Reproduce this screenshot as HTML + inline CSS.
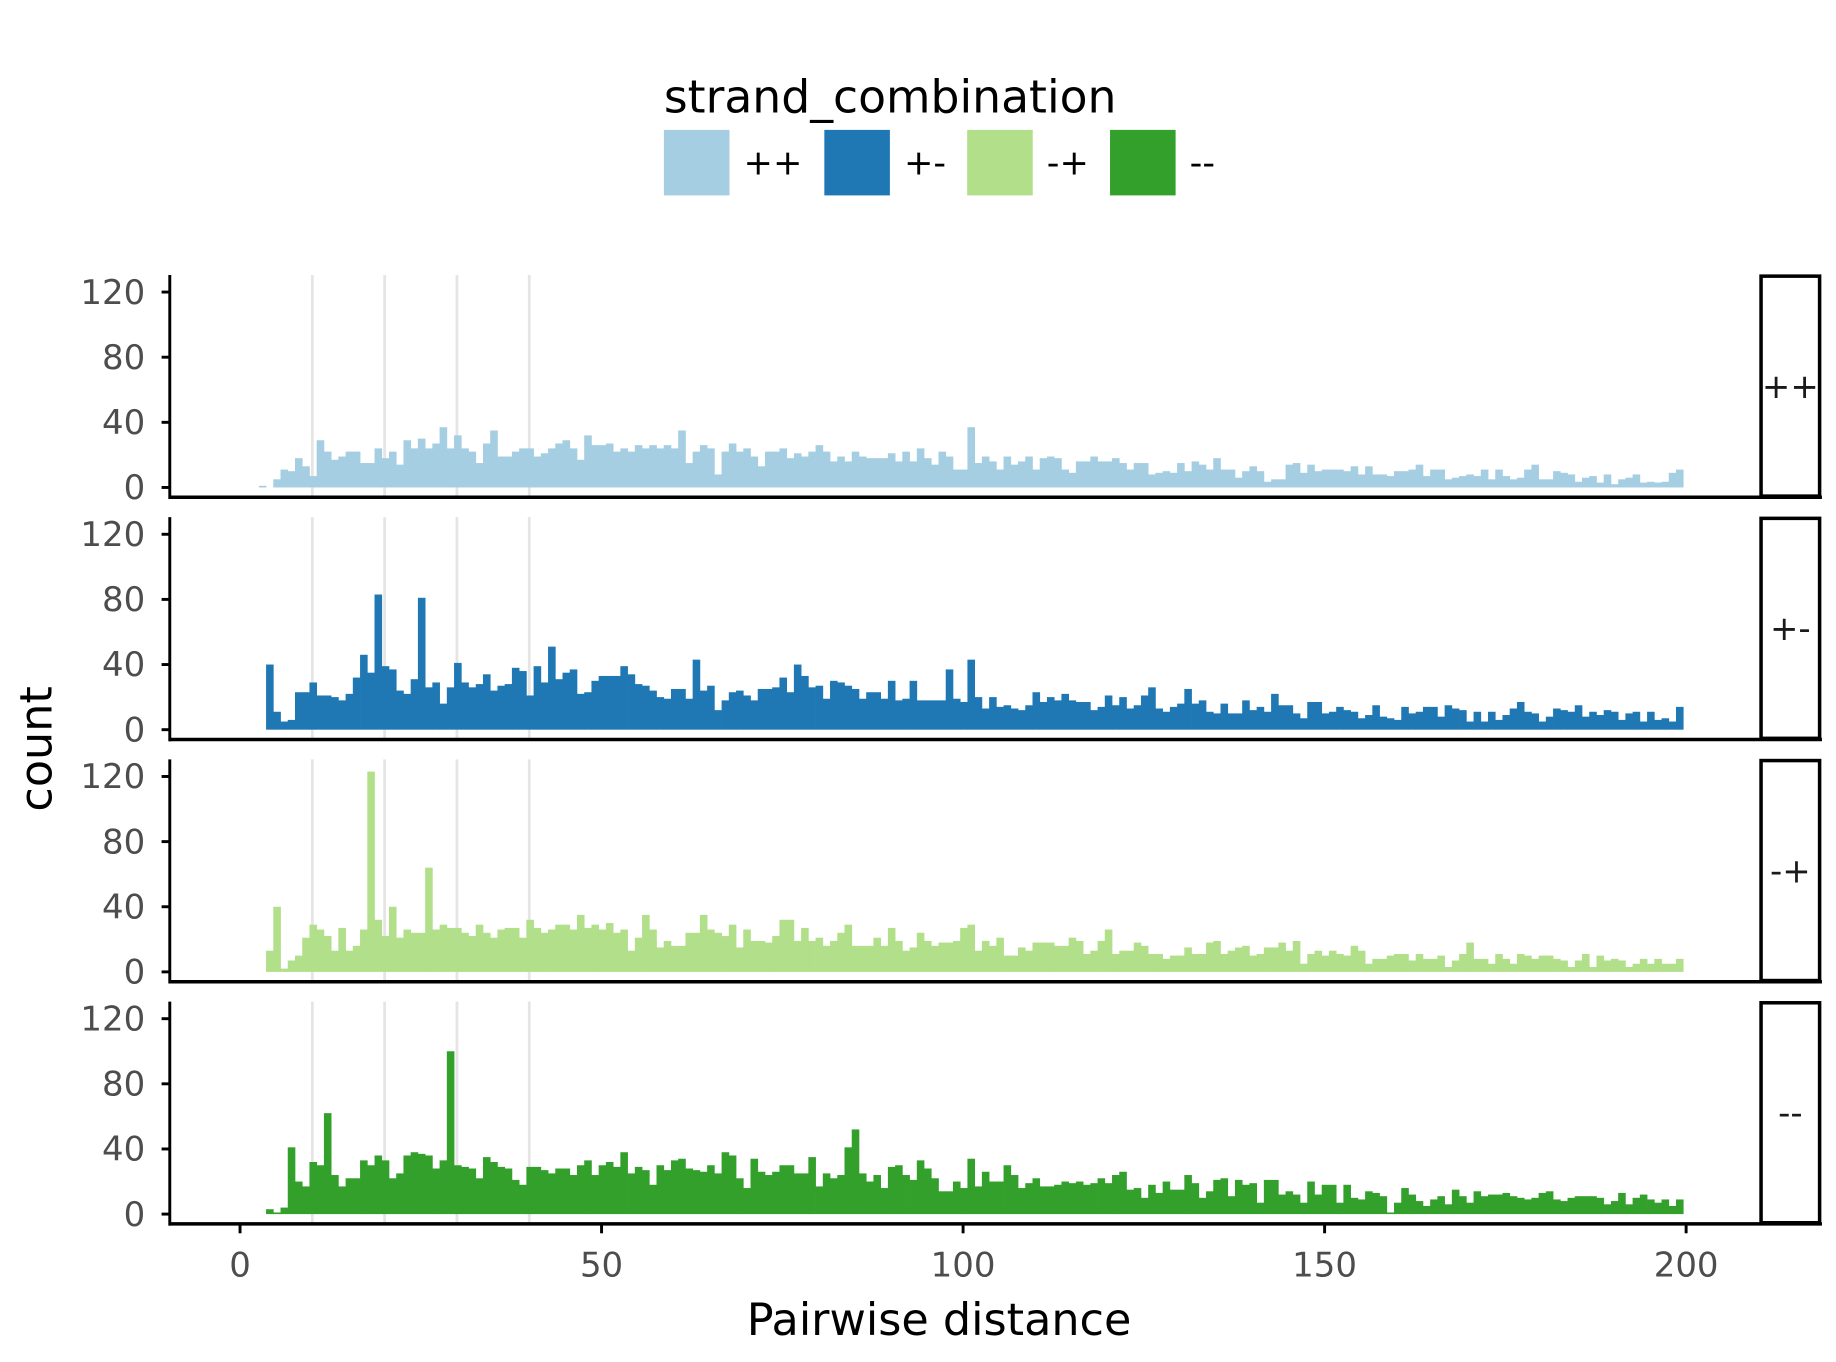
<!DOCTYPE html>
<html><head><meta charset="utf-8"><style>
html,body{margin:0;padding:0;background:#fff;}
svg{display:block;font-family:"DejaVu Sans","Liberation Sans",sans-serif;}
</style></head><body>
<svg id="chart" width="1836" height="1362" viewBox="0 0 1568 1164" preserveAspectRatio="none" xmlns="http://www.w3.org/2000/svg">
<g>
<text x="567" y="96" font-size="39" fill="#000">strand_combination</text>
<rect x="567" y="111" width="56" height="56" fill="#a6cee3"/>
<text x="635" y="149" font-size="30">++</text>
<rect x="704" y="111" width="56" height="56" fill="#1f78b4"/>
<text x="772" y="149" font-size="30">+-</text>
<rect x="826" y="111" width="56" height="56" fill="#b2df8a"/>
<text x="894" y="149" font-size="30">-+</text>
<rect x="948" y="111" width="56" height="56" fill="#33a02c"/>
<text x="1016" y="149" font-size="30">--</text>
</g>
<g id="panels"></g>
<text x="802" y="1141" font-size="38" text-anchor="middle">Pairwise distance</text>
<text transform="translate(44,640) rotate(-90)" font-size="38" text-anchor="middle">count</text>
</svg>
<script>
const facetLabels = ["++","+-","-+","--"];
const facetColors = ["#a6cee3","#1f78b4","#b2df8a","#33a02c"];
const binStart = 3;
const yTicks = [0,40,80,120];
const xTicks = [0,50,100,150,200];
const vlines = [10,20,30,40];
const countsPP = [1,0,5,11,10,18,13,7,
29,22,17,19,22,22,15,15,24,18,
22,14,29,24,30,24,27,37,24,32,
24,22,15,27,35,19,19,22,24,24,
19,21,24,27,29,24,17,32,26,26,
27,22,24,22,26,24,26,24,26,24,
35,15,22,26,24,8,22,27,22,24,
19,13,22,22,24,18,21,19,22,26,
22,16,19,16,22,19,18,18,18,21,
16,22,16,24,18,14,22,19,11,11,
37,15,
19,16,11,19,14,16,19,11,18,19,
18,11,9,16,16,19,16,16,18,15,
11,15,15,8,9,10,9,15,10,16,
14,11,18,11,11,6,10,13,10,3.5,
5,5,14,15,9,14,10,11,11,11,
10,13,8,13,8,8,7,10,10,11,
14,7,11,11,5,6,7,8,7,11,
5,11,7,5,6,11,14,5,5,10,
9,8,3.5,6,7,3,8,2,5,6,
8,3,3.5,3,3.5,9,11];
const countsPM = [0,40,11,5,6,23,23,29,
21,21,20,18,22,32,46,35,83,39,
37,24,22,31,81,26,29,16,26,41,
29,26,28,34,24,27,28,38,36,21,
39,29,51,31,35,37,22,23,30,33,
33,33,39,34,28,27,24,20,19,25,
25,19,43,24,27,12,18,23,24,21,
18,25,25,26,32,23,40,33,26,27,
19,30,29,27,25,19,23,23,19,30,
18,19,30,18,18,18,18,37,19,17,
43,20,
13,20,14,15,13,12,15,23,17,20,
18,22,18,17,17,12,14,21,15,20,
13,15,21,26,13,11,14,16,25,16,
18,11,10,16,10,10,18,12,14,11,
22,15,15,10,7,17,17,10,11,14,
12,11,7,9,15,8,7,6,14,10,
11,14,14,8,15,13,12,5,11,5,
11,6,9,13,17,11,10,5,8,13,
12,11,15,8,11,9,12,11,6,10,
11,5,11,6,7,5,14];
const countsMP = [0,13,40,2,7,10,21,29,
26,22,13,27,13,16,26,123,32,22,
40,21,26,24,24,64,26,29,27,27,
24,22,29,24,21,26,27,27,21,32,
27,24,26,29,29,26,35,27,29,26,
30,24,26,13,21,35,26,15,19,16,
16,24,24,35,26,24,22,29,15,26,
19,19,18,22,32,32,19,27,19,21,
16,19,24,29,16,16,16,21,16,
27,19,13,15,24,19,16,18,18,19,27,29,13,
19,16,21,10,10,15,13,18,18,18,
16,16,21,19,11,13,19,26,11,13,
13,18,16,11,11,8,10,10,15,11,
11,18,19,11,13,15,16,10,11,15,
15,18,13,19,5,11,13,10,13,11,
10,16,13,5,8,8,10,11,11,7,
11,8,8,10,3,7,11,18,8,8,
5,11,8,5,11,10,8,10,10,8,
7,3,7,11,3,10,7,8,7,3,
5,8,5,8,5,5,8];
const countsMM = [0,3,1,4,41,20,17,32,
30,62,24,17,22,22,33,30,36,33,
22,25,36,38,37,36,28,33,100,30,
29,28,22,35,32,29,28,21,18,29,
29,27,25,28,28,24,30,33,24,30,
32,29,38,25,29,27,18,30,27,33,
34,28,27,26,30,25,38,36,22,16,
34,26,24,26,30,30,25,25,35,17,
25,22,24,41,52,25,20,24,16,29,
30,24,21,33,
28,22,14,14,20,16,34,17,
26,20,20,30,24,16,19,22,17,17,
18,20,19,20,18,19,22,19,24,26,
15,16,10,18,13,20,15,15,24,19,
10,14,21,22,11,21,18,19,7,21,
21,12,14,12,7,20,12,18,18,7,
18,10,9,14,13,11,1,7,16,12,
8,5,9,11,6,15,11,7,14,11,
12,12,13,11,10,9,10,13,14,9,
8,10,11,11,11,10,6,8,13,6,
10,12,9,7,9,5,9];
const series = [countsPP, countsPM, countsMP, countsMM];

const NS = "http://www.w3.org/2000/svg";
const X0 = 205, XS = 6.175;
function xScale(v){ return X0 + v*XS; }
const panelTop0 = 235, panelStep = 207, panelH = 190, zero0 = 416.6, ySpan = 167;
function yScale(v, k){ return zero0 + k*panelStep - v/120*ySpan; }
function mk(tag, attrs){ const e=document.createElementNS(NS,tag); for(const a in attrs) e.setAttribute(a, attrs[a]); return e; }

const root = document.getElementById('panels');
for (let k=0;k<4;k++){
  const g = mk('g',{});
  
  
  root.appendChild(g);
  const top = panelTop0 + k*panelStep, bot = top + panelH;
  vlines.forEach(v=>{
    const l = mk('line',{x1:xScale(v),x2:xScale(v),y1:top,y2:bot,stroke:'#e5e5e5','stroke-width':2.4});
    
    
    g.appendChild(l);
  });
  const vals = series[k];
  vals.forEach((c,i)=>{
    if (c<=0) return;
    const b = binStart + i;
    const x1 = xScale(b-0.4), x2 = xScale(b+0.6);
    const y = yScale(c,k), y0 = yScale(0,k);
    const r = mk('rect',{x:x1,y:y,width:x2-x1+0.3,height:y0-y,fill:facetColors[k]});
    
    
    g.appendChild(r);
  });
  yTicks.forEach(t=>{
    const y = yScale(t,k);
    const tk = mk('line',{x1:138,x2:145,y1:y,y2:y,stroke:'#000','stroke-width':2.5});
    
    
    g.appendChild(tk);
    const tx = mk('text',{x:124,y:y+10,'font-size':29,'text-anchor':'end',fill:'#4d4d4d'});
    tx.textContent = t;
    
    
    g.appendChild(tx);
  });
  const ax = mk('line',{x1:145,x2:145,y1:top,y2:bot+1.5,stroke:'#000','stroke-width':2.5});
  
  
  g.appendChild(ax);
  const bx = mk('line',{x1:144,x2:1556,y1:bot,y2:bot,stroke:'#000','stroke-width':3});
  
  
  g.appendChild(bx);
  const sb = mk('rect',{x:1504,y:top+1,width:50,height:panelH-2,fill:'#fff',stroke:'#000','stroke-width':3});
  
  
  g.appendChild(sb);
  const st = mk('text',{x:1529,y:top+panelH/2+10,'font-size':29,'text-anchor':'middle',fill:'#1a1a1a'});
  st.textContent = facetLabels[k];
  
  
  g.appendChild(st);
}
const bottom = panelTop0 + 3*panelStep + panelH;
xTicks.forEach(t=>{
  const tk = mk('line',{x1:xScale(t),x2:xScale(t),y1:bottom,y2:bottom+8,stroke:'#000','stroke-width':2.5});
  
  
  root.appendChild(tk);
  const tx = mk('text',{x:xScale(t),y:bottom+45,'font-size':29,'text-anchor':'middle',fill:'#4d4d4d'});
  tx.textContent = t;
  
  
  root.appendChild(tx);
});
</script>
</body></html>
